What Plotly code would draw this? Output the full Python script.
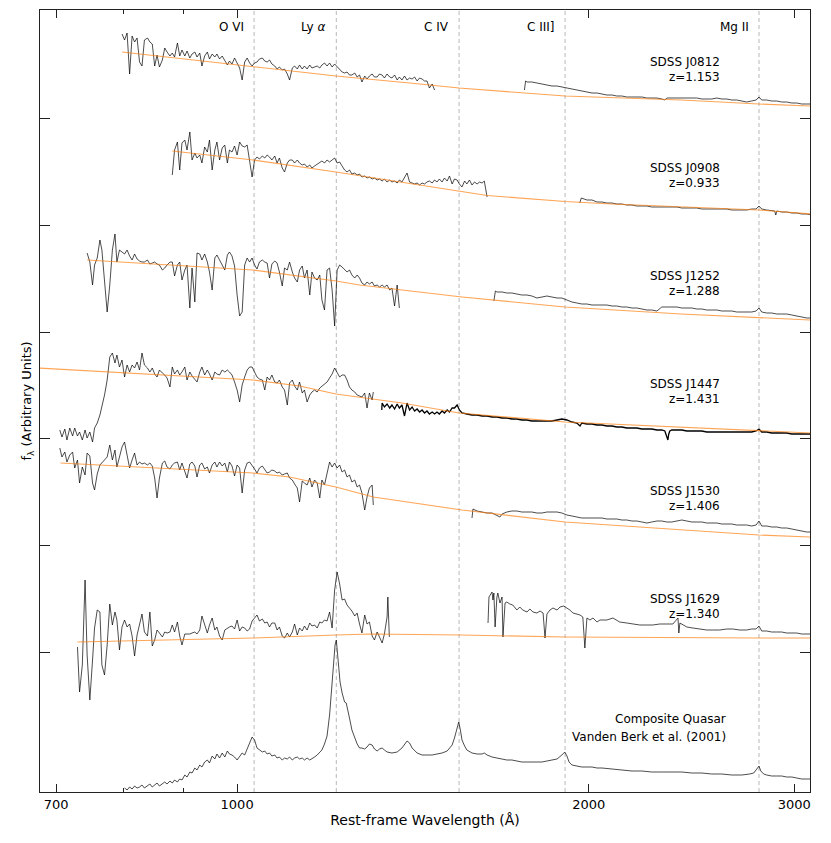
import math
import plotly.graph_objects as go

# rest-frame wavelength (Angstrom) and flux (arbitrary units, spectra offset vertically)

j0812_uv_wave = [797, 801, 805, 809, 813, 817, 821, 825, 829, 833,
                 838, 842, 846, 850, 854, 858, 863, 867, 871, 876,
                 880, 884, 889, 893, 897, 902, 906, 911, 915, 920,
                 924, 929, 933, 938, 943, 947, 952, 957, 961, 966,
                 971, 976, 981, 985, 990, 995, 1000, 1005, 1010, 1015,
                 1020, 1025, 1030, 1035, 1040, 1045, 1051, 1056, 1061, 1066,
                 1071, 1077, 1082, 1087, 1093, 1098, 1104, 1109, 1115, 1120,
                 1126, 1131, 1137, 1142, 1148, 1154, 1159, 1165, 1171, 1177,
                 1182, 1188, 1194, 1200, 1206, 1212, 1218, 1224, 1230, 1236,
                 1242, 1248, 1254, 1261, 1267, 1273, 1279, 1286, 1292, 1298,
                 1305, 1311, 1318, 1324, 1331, 1337, 1344, 1351, 1357, 1364,
                 1371, 1377, 1384, 1391, 1398, 1405, 1412, 1419, 1426, 1433,
                 1440, 1447, 1454, 1461, 1469, 1476]
j0812_uv_flux = [766, 760, 767, 726, 764, 758, 762, 738, 734, 760,
                 762, 758, 756, 734, 745, 733, 740, 752, 748, 744,
                 747, 743, 757, 744, 750, 744, 749, 742, 746, 748,
                 743, 747, 734, 744, 748, 741, 746, 743, 746, 741,
                 744, 740, 735, 739, 736, 742, 737, 732, 720, 738,
                 742, 737, 734, 737, 738, 741, 742, 739, 738, 740,
                 736, 734, 731, 733, 730, 731, 726, 720, 732, 734,
                 731, 735, 731, 734, 731, 735, 732, 733, 734, 732,
                 735, 737, 734, 737, 733, 736, 733, 730, 728, 727,
                 728, 725, 725, 727, 723, 725, 718, 724, 721, 724,
                 726, 723, 723, 726, 725, 722, 726, 723, 722, 725,
                 720, 723, 720, 724, 720, 722, 721, 723, 719, 722,
                 721, 719, 719, 712, 716, 710]
j0812_opt_wave = [1762, 1766, 1771, 1788, 1806, 1824, 1842, 1860, 1879, 1897,
                  1916, 1935, 1954, 1973, 1993, 2013, 2033, 2053, 2073, 2094,
                  2114, 2135, 2156, 2178, 2199, 2221, 2243, 2265, 2288, 2310,
                  2324, 2333, 2356, 2380, 2403, 2427, 2451, 2475, 2500, 2524,
                  2549, 2575, 2600, 2626, 2652, 2678, 2705, 2731, 2758, 2782,
                  2798, 2813, 2841, 2869, 2898, 2926, 2955, 2985, 3014, 3044,
                  3074, 3105]
j0812_opt_flux = [710, 719, 718, 718, 717, 716, 715, 714, 714, 713,
                  712, 711, 710, 709, 708, 707, 707, 706, 705, 705,
                  704, 704, 703, 703, 703, 703, 702, 702, 702, 701,
                  700, 702, 702, 702, 702, 702, 702, 702, 701, 701,
                  701, 702, 701, 701, 700, 700, 699, 698, 699, 700,
                  703, 700, 700, 699, 699, 698, 698, 697, 697, 696,
                  696, 696]

j0908_uv_wave = [880, 884, 889, 893, 897, 902, 906, 911, 915, 920,
                 924, 929, 933, 938, 943, 947, 952, 957, 961, 966,
                 971, 976, 981, 985, 990, 995, 1000, 1005, 1010, 1015,
                 1020, 1025, 1030, 1035, 1040, 1045, 1051, 1056, 1061, 1066,
                 1071, 1077, 1082, 1087, 1093, 1098, 1104, 1109, 1115, 1120,
                 1126, 1131, 1137, 1142, 1148, 1154, 1159, 1165, 1171, 1177,
                 1182, 1188, 1194, 1200, 1206, 1212, 1218, 1224, 1230, 1236,
                 1242, 1248, 1254, 1261, 1267, 1273, 1279, 1286, 1292, 1298,
                 1305, 1311, 1318, 1324, 1331, 1337, 1344, 1351, 1357, 1364,
                 1371, 1377, 1384, 1391, 1398, 1405, 1412, 1419, 1426, 1433,
                 1440, 1447, 1454, 1461, 1469, 1476, 1483, 1490, 1498, 1505,
                 1513, 1520, 1528, 1535, 1543, 1550, 1558, 1566, 1573, 1581,
                 1589, 1597, 1605, 1613, 1621, 1628, 1637]
j0908_uv_flux = [625, 650, 658, 630, 657, 660, 650, 668, 640, 647,
                 642, 645, 637, 653, 648, 660, 630, 650, 658, 640,
                 652, 655, 637, 650, 648, 654, 645, 658, 654, 653,
                 655, 638, 623, 640, 643, 641, 644, 642, 645, 643,
                 640, 644, 637, 642, 632, 628, 637, 640, 640, 637,
                 640, 637, 635, 636, 633, 635, 632, 634, 636, 638,
                 639, 637, 640, 638, 640, 642, 637, 638, 634, 630,
                 628, 630, 626, 627, 625, 626, 623, 624, 622, 623,
                 621, 622, 620, 621, 619, 621, 618, 620, 618, 619,
                 617, 620, 618, 622, 627, 618, 617, 616, 617, 615,
                 617, 616, 618, 619, 617, 620, 618, 621, 618, 622,
                 619, 624, 616, 621, 620, 616, 613, 619, 616, 620,
                 615, 618, 616, 618, 617, 619, 603]
j0908_opt_wave = [1965, 1971, 1993, 2013, 2033, 2053, 2073, 2094, 2114, 2135,
                  2156, 2178, 2199, 2221, 2243, 2265, 2288, 2310, 2333, 2356,
                  2380, 2403, 2427, 2451, 2475, 2500, 2524, 2549, 2575, 2600,
                  2626, 2652, 2678, 2705, 2731, 2758, 2782, 2798, 2813, 2841,
                  2869, 2886, 2892, 2898, 2926, 2955, 2985, 3014, 3044, 3074,
                  3105]
j0908_opt_flux = [597, 602, 600, 600, 598, 598, 597, 597, 596, 596,
                  595, 595, 594, 594, 594, 593, 593, 593, 593, 593,
                  593, 592, 592, 592, 592, 591, 591, 591, 591, 591,
                  591, 590, 590, 590, 590, 591, 591, 594, 591, 590,
                  589, 589, 585, 589, 588, 588, 587, 587, 586, 586,
                  585]

j1252_uv_wave = [744, 748, 752, 755, 759, 763, 766, 770, 774, 778,
                 782, 786, 789, 793, 797, 801, 805, 809, 813, 817,
                 821, 825, 829, 833, 838, 842, 846, 850, 854, 858,
                 863, 867, 871, 876, 880, 884, 889, 893, 897, 902,
                 906, 911, 915, 920, 924, 929, 933, 938, 943, 947,
                 952, 957, 961, 966, 971, 976, 981, 985, 990, 995,
                 1000, 1005, 1010, 1015, 1020, 1025, 1030, 1035, 1040, 1045,
                 1051, 1056, 1061, 1066, 1071, 1077, 1082, 1087, 1093, 1098,
                 1104, 1109, 1115, 1120, 1126, 1131, 1137, 1142, 1148, 1154,
                 1159, 1165, 1171, 1177, 1182, 1188, 1194, 1200, 1206, 1212,
                 1218, 1224, 1230, 1236, 1242, 1248, 1254, 1261, 1267, 1273,
                 1279, 1286, 1292, 1298, 1305, 1311, 1318, 1324, 1331, 1337,
                 1344, 1351, 1357, 1364, 1371, 1377]
j1252_uv_flux = [547, 538, 515, 535, 542, 560, 550, 520, 488, 515,
                 550, 566, 538, 550, 548, 546, 550, 544, 540, 546,
                 541, 539, 538, 538, 540, 536, 537, 538, 536, 535,
                 530, 532, 535, 538, 538, 524, 535, 538, 520, 530,
                 535, 492, 532, 498, 547, 546, 540, 546, 538, 528,
                 510, 542, 545, 540, 536, 530, 545, 548, 544, 534,
                 505, 484, 488, 535, 542, 538, 542, 535, 531, 538,
                 540, 538, 537, 522, 536, 539, 537, 528, 514, 532,
                 530, 538, 528, 522, 518, 530, 534, 522, 530, 505,
                 528, 522, 520, 525, 500, 490, 530, 532, 510, 474,
                 530, 535, 533, 530, 528, 530, 525, 522, 525, 522,
                 517, 515, 518, 516, 518, 514, 515, 513, 515, 513,
                 515, 510, 512, 494, 515, 492]
j1252_opt_wave = [1659, 1664, 1669, 1686, 1702, 1719, 1736, 1753, 1771, 1788,
                  1806, 1824, 1842, 1860, 1879, 1897, 1916, 1935, 1954, 1973,
                  1993, 2013, 2033, 2053, 2073, 2094, 2114, 2135, 2156, 2178,
                  2199, 2221, 2243, 2265, 2288, 2310, 2333, 2356, 2380, 2403,
                  2427, 2451, 2475, 2500, 2524, 2549, 2575, 2600, 2626, 2652,
                  2678, 2705, 2731, 2758, 2782, 2798, 2813, 2841, 2869, 2898,
                  2926, 2955, 2985, 3014, 3044, 3074, 3105]
j1252_opt_flux = [499, 509, 508, 508, 507, 507, 506, 505, 505, 504,
                  502, 503, 504, 503, 502, 502, 500, 498, 497, 496,
                  496, 495, 495, 495, 495, 494, 494, 493, 493, 492,
                  492, 491, 490, 490, 489, 493, 493, 493, 493, 492,
                  492, 492, 491, 491, 490, 490, 490, 489, 489, 489,
                  488, 488, 488, 488, 489, 492, 488, 487, 487, 486,
                  486, 486, 485, 484, 483, 482, 482]

uv_wave_705 = [705, 708, 712, 715, 719, 723, 726, 730, 733, 737,
               741, 744, 748, 752, 755, 759, 763, 766, 770, 774,
               778, 782, 786, 789, 793, 797, 801, 805, 809, 813,
               817, 821, 825, 829, 833, 838, 842, 846, 850, 854,
               858, 863, 867, 871, 876, 880, 884, 889, 893, 897,
               902, 906, 911, 915, 920, 924, 929, 933, 938, 943,
               947, 952, 957, 961, 966, 971, 976, 981, 985, 990,
               995, 1000, 1005, 1010, 1015, 1020, 1025, 1030, 1035, 1040,
               1045, 1051, 1056, 1061, 1066, 1071, 1077, 1082, 1087, 1093,
               1098, 1104, 1109, 1115, 1120, 1126, 1131, 1137, 1142, 1148,
               1154, 1159, 1165, 1171, 1177, 1182, 1188, 1194, 1200, 1206,
               1212, 1218, 1224, 1230, 1236, 1242, 1248, 1254, 1261, 1267,
               1273, 1279, 1286, 1292, 1298, 1305, 1308]

j1447_uv_wave = uv_wave_705
j1447_uv_flux = [370, 363, 371, 360, 372, 364, 372, 364, 368, 360,
                 370, 362, 368, 358, 372, 377, 385, 393, 405, 420,
                 443, 447, 437, 445, 433, 440, 423, 435, 428, 435,
                 432, 438, 430, 447, 435, 432, 428, 432, 426, 423,
                 430, 427, 425, 422, 413, 433, 426, 430, 425, 428,
                 433, 420, 428, 424, 420, 418, 428, 433, 425, 430,
                 426, 420, 428, 426, 425, 430, 428, 430, 428, 425,
                 418, 410, 398, 415, 423, 430, 433,
                 433, 428, 423, 421, 420, 410, 423, 420, 425, 418,
                 417, 420, 413, 410, 395, 417, 420, 414, 410, 418,
                 407, 410, 398, 405, 408, 410, 408, 412, 414, 416,
                 418, 422, 426, 432, 427, 423, 425, 425, 420, 413,
                 410, 408, 405, 404, 403, 407, 392, 407, 400, 408]
j1447_opt_wave = [1330, 1331, 1337, 1344, 1351, 1357, 1364, 1371, 1377, 1384,
                  1391, 1398, 1405, 1412, 1419, 1426, 1433, 1440, 1447, 1454,
                  1461, 1469, 1476, 1483, 1490, 1498, 1505, 1513, 1520, 1528,
                  1535, 1543, 1550, 1558,
                  1573, 1589, 1605, 1621, 1637, 1653, 1669, 1686, 1702, 1719,
                  1736, 1753, 1771, 1788, 1806, 1824, 1842, 1860, 1879, 1897,
                  1916, 1935, 1954, 1966, 1973, 1993, 2013, 2033, 2053, 2073,
                  2094, 2114, 2135, 2156, 2178, 2199, 2221, 2243, 2265, 2288,
                  2310, 2324, 2333, 2338, 2342, 2347, 2356, 2380, 2403, 2427,
                  2451, 2475, 2500, 2524, 2549, 2575, 2600, 2626, 2652, 2678,
                  2705, 2731, 2758, 2782, 2798, 2813, 2841, 2869, 2898, 2926,
                  2955, 2985, 3014, 3044, 3074, 3105]
j1447_opt_flux = [390, 397, 393, 396, 392, 395, 391, 396, 392, 395,
                  384, 397, 390, 393, 389, 391, 388, 390, 387, 389,
                  386, 388, 386, 388, 386, 389, 387, 390, 388, 392,
                  392, 395, 390, 387,
                  386, 385, 385, 384, 384, 383, 383, 382, 382, 381,
                  381, 380, 380, 379, 379, 379, 379, 379, 380, 381,
                  380, 378, 377, 374, 377, 376, 376, 375, 375, 374,
                  374, 373, 373, 372, 372, 372, 371, 371, 371, 370,
                  370, 369, 364, 360, 366, 369, 370, 370, 370, 369,
                  369, 369, 369, 368, 368, 368, 368, 368, 368, 368,
                  368, 368, 368, 369, 371, 368, 368, 367, 367, 367,
                  367, 366, 366, 366, 366, 366]

j1530_uv_wave = uv_wave_705
j1530_uv_flux = [352, 343, 348, 338, 345, 348, 332, 340, 317, 333,
                 325, 347, 344, 317, 310, 326, 335, 337, 340, 343,
                 355, 340, 350, 333, 343, 353, 358, 345, 332, 340,
                 347, 335, 338, 336, 337, 335, 337, 334, 322, 302,
                 322, 337, 339, 333, 331, 335, 337, 338, 330, 337,
                 329, 322, 336, 338, 334, 323, 335, 337, 331, 333,
                 327, 335, 338, 333, 338, 334, 337, 328, 338, 334,
                 324, 335, 332, 307, 330, 337, 338,
                 335, 331, 327, 332, 334, 330, 327, 328, 330, 329,
                 327, 328, 325, 326, 327, 322, 320, 316, 312, 298,
                 319, 317, 315, 322, 313, 320, 317, 302, 320, 315,
                 328, 338, 333, 337, 332, 335, 328, 330, 323, 325,
                 318, 320, 313, 315, 307, 290, 303, 312, 315, 295]
j1530_opt_wave = [1589, 1592, 1605, 1621, 1637, 1653, 1669, 1679, 1686, 1702,
                  1719, 1736, 1753, 1771, 1788, 1806, 1824, 1842, 1860, 1879,
                  1897, 1916, 1935, 1954, 1973, 1993, 2013, 2033, 2053, 2073,
                  2094, 2114, 2135, 2156, 2178, 2199, 2221, 2243, 2265, 2288,
                  2310, 2333, 2356, 2380, 2403, 2427, 2451, 2475, 2500, 2524,
                  2549, 2575, 2600, 2626, 2652, 2678, 2705, 2731, 2758, 2782,
                  2798, 2813, 2841, 2869, 2898, 2926, 2955, 2985, 3014, 3044,
                  3074, 3105]
j1530_opt_flux = [282, 291, 289, 288, 287, 287, 285, 283, 286, 288,
                  289, 289, 288, 288, 288, 287, 287, 288, 288, 288,
                  287, 285, 284, 283, 282, 282, 282, 282, 282, 281,
                  281, 281, 280, 280, 279, 279, 278, 277, 278, 279,
                  279, 278, 278, 279, 280, 279, 278, 278, 278, 277,
                  277, 277, 276, 276, 276, 275, 275, 275, 274, 275,
                  279, 274, 274, 273, 273, 272, 272, 271, 270, 269,
                  268, 268]

j1629_uv_wave = [730, 733, 737, 741, 744, 748, 752, 755, 759, 763,
                 766, 770, 774, 778, 782, 786, 789, 793, 797, 801,
                 805, 809, 813, 817, 821, 825, 829, 833, 838, 842,
                 846, 850, 854, 858, 863, 867, 871, 876, 880, 884,
                 889, 893, 897, 902, 906, 911, 915, 920, 924, 929,
                 933, 938, 943, 947, 952, 957, 961, 966, 971, 976,
                 981, 985, 990, 995, 1000, 1005, 1010, 1015, 1020, 1025,
                 1030, 1035, 1040, 1045, 1051, 1056, 1061, 1066, 1071, 1077,
                 1082, 1087, 1093, 1098, 1104, 1109, 1115, 1120, 1126, 1131,
                 1137, 1142, 1148, 1154, 1159, 1165, 1171, 1177, 1182, 1188,
                 1194, 1200, 1206, 1212, 1218, 1224, 1230, 1236, 1242, 1248,
                 1254, 1261, 1267, 1273, 1279, 1286, 1292, 1298, 1305, 1311,
                 1318, 1324, 1331, 1337, 1344, 1346, 1350]
j1629_uv_flux = [153, 108, 135, 220, 145, 100, 140, 172, 190, 188,
                 135, 125, 155, 196, 175, 188, 180, 150, 173, 180,
                 173, 176, 164, 144, 165, 175, 186, 168, 164, 188,
                 154, 160, 170, 167, 163, 168, 167, 168, 175, 168,
                 178, 164, 155, 166, 166, 166, 167, 168, 166, 170,
                 184, 176, 167, 175, 182, 170, 173, 164, 160, 170,
                 172, 173, 174, 171, 180, 169, 173, 172, 169, 171,
                 179, 182, 185, 179, 181, 177, 178, 173, 177, 177,
                 170, 173, 164, 162, 167, 163, 168, 176, 165, 172,
                 169, 174, 170, 177, 174, 175, 172, 178, 177, 180,
                 179, 188, 172, 210, 228, 216, 200, 201, 195, 192,
                 189, 184, 187, 176, 167, 185, 176, 178, 164, 160,
                 168, 163, 157, 166, 183, 203, 163]
j1629_opt_wave = [1640, 1643, 1653, 1656, 1659, 1663, 1669, 1672, 1679, 1686,
                  1689, 1696, 1702, 1712, 1722, 1736, 1746, 1756, 1771, 1781,
                  1792, 1806, 1817, 1828, 1835, 1842, 1853, 1864, 1879, 1890,
                  1904, 1916, 1927, 1939, 1954, 1966, 1977, 1985, 1993, 2005,
                  2017, 2033, 2045, 2073, 2098, 2126, 2156, 2178, 2212, 2243,
                  2269, 2301, 2333, 2361, 2385, 2389, 2394, 2427, 2456, 2490,
                  2524, 2554, 2590, 2626, 2657, 2694, 2731, 2758, 2782, 2798,
                  2813, 2841, 2869, 2898, 2926, 2955, 2985, 3014, 3044, 3074,
                  3105]
j1629_opt_flux = [177, 203, 208, 200, 207, 173, 203, 207, 197, 203,
                  163, 197, 198, 196, 195, 190, 193, 190, 188, 191,
                  188, 187, 189, 187, 162, 186, 190, 192, 190, 193,
                  194, 192, 190, 187, 186, 185, 183, 152, 182, 180,
                  182, 178, 180, 180, 182, 178, 177, 176, 175, 175,
                  175, 176, 176, 176, 182, 167, 177, 173, 172, 171,
                  170, 170, 170, 171, 171, 170, 170, 171, 171, 174,
                  169, 169, 168, 168, 168, 167, 167, 167, 166, 166,
                  166]

composite_wave = [801, 805, 809, 813, 817, 821, 825, 829, 833, 838,
                  842, 846, 850, 854, 858, 863, 867, 871, 876, 880,
                  884, 889, 893, 897, 902, 906, 911, 915, 920, 924,
                  929, 933, 938, 943, 947, 952, 957, 961, 966, 971,
                  976, 981, 985, 990, 995, 1000, 1005, 1010, 1015, 1020,
                  1025, 1030, 1035, 1040, 1045, 1051, 1056, 1061, 1066, 1071,
                  1077, 1082, 1087, 1093, 1098, 1104, 1109, 1115, 1120, 1126,
                  1131, 1137, 1142, 1148, 1154, 1159, 1165, 1171, 1177, 1182,
                  1188, 1194, 1200, 1206,
                  1210, 1213, 1216, 1218, 1222, 1225, 1230, 1236, 1240, 1243,
                  1248, 1254, 1261, 1267, 1273, 1279, 1286, 1292, 1298, 1305,
                  1311, 1318, 1324, 1331, 1337, 1344, 1357, 1371, 1384, 1391,
                  1398, 1405, 1412, 1426, 1440, 1454, 1469, 1483, 1498, 1513,
                  1528, 1535, 1543, 1548, 1553, 1558, 1566, 1573, 1589, 1605,
                  1621, 1628, 1637, 1653, 1669, 1686, 1702, 1719, 1736, 1753,
                  1771, 1788, 1806, 1824, 1842, 1860, 1879, 1897, 1908, 1916,
                  1924, 1935, 1954, 1973, 1993, 2013, 2033, 2053, 2094, 2135,
                  2178, 2221, 2265, 2310, 2356, 2403, 2451, 2500, 2549, 2600,
                  2652, 2705, 2747, 2769, 2786, 2798, 2808, 2824, 2841, 2869,
                  2898, 2926, 2955, 2985, 3014, 3044, 3074, 3105]
composite_flux = [12, 10, 13, 11, 14, 12, 13, 15, 12, 14,
                  16, 13, 15, 17, 14, 16, 18, 16, 19, 17,
                  20, 18, 21, 20, 25, 23, 28, 27, 32, 30,
                  35, 33, 38, 40, 37, 44, 41, 46, 42, 47,
                  43, 49, 46, 45, 43, 40, 44, 47, 45, 52,
                  57, 63, 60, 52, 50, 48, 49, 46, 47, 44,
                  45, 42, 43, 40, 42, 41, 43, 40, 42, 43,
                  41, 42, 40, 42, 40, 41, 43, 45, 48, 50,
                  56, 64, 85, 115,
                  135, 155, 160, 150, 132, 118, 107, 98, 97, 92,
                  82, 70, 62, 56, 52, 52, 51, 53, 56, 55,
                  51, 49, 51, 52, 50, 48, 47, 48, 52, 56,
                  59, 57, 52, 47, 45, 45, 45, 46, 47, 49,
                  55, 62, 74, 78, 70, 60, 54, 50, 47, 46,
                  46, 47, 45, 43, 42, 41, 40, 40, 39, 38,
                  38, 38, 38, 38, 39, 40, 41, 45, 48, 44,
                  38, 35, 34, 33, 33, 33, 32, 32, 31, 30,
                  29, 29, 28, 28, 28, 28, 27, 27, 26, 26,
                  25, 25, 26, 27, 31, 34, 29, 26, 25, 24,
                  24, 24, 23, 23, 22, 21, 21, 21]

# power-law continuum fits
j0812_cont_wave = [797, 1032, 1215, 1405, 1549, 1909, 2400, 2798, 3100]
j0812_cont_flux = [748, 733, 724, 717, 712, 704, 700, 696, 694]
j0908_cont_wave = [880, 1032, 1215, 1326, 1549, 1637, 1909, 2094, 2798, 3100]
j0908_cont_flux = [649, 640, 628, 621, 609, 604.5, 598.5, 596, 590, 586]
j1252_cont_wave = [744, 1032, 1215, 1273, 1558, 1909, 2400, 2798, 3100]
j1252_cont_flux = [540, 530, 519, 515, 503, 493, 486, 482, 480]
j1447_cont_wave = [675, 1032, 1131, 1215, 1384, 1549, 1909, 2400, 2798, 3100]
j1447_cont_flux = [432, 420, 414, 406, 397, 387, 378, 373, 369, 367]
j1530_cont_wave = [706, 1032, 1109, 1215, 1308, 1558, 1909, 2400, 2798, 3100]
j1530_cont_flux = [337, 327, 323, 313, 303, 290, 278, 270, 265, 263]
j1629_cont_wave = [730, 1032, 1215, 1300, 1558, 1909, 2798, 3100]
j1629_cont_flux = [158, 162, 165, 166, 165, 163, 162, 162]

line_names = ["O VI", "Ly <i>α</i>", "C IV", "C III]", "Mg II"]
line_waves = [1034, 1216, 1549, 1909, 2798]

qso_names = ["SDSS J0812", "SDSS J0908", "SDSS J1252", "SDSS J1447", "SDSS J1530", "SDSS J1629"]
qso_z = ["z=1.153", "z=0.933", "z=1.288", "z=1.431", "z=1.406", "z=1.340"]
qso_label_flux = [738, 632, 524, 416, 309, 201]

y_ticks = [148, 255, 362, 468, 575, 682]

spectra = [
    (j0812_uv_wave, j0812_uv_flux), (j0812_opt_wave, j0812_opt_flux),
    (j0908_uv_wave, j0908_uv_flux), (j0908_opt_wave, j0908_opt_flux),
    (j1252_uv_wave, j1252_uv_flux), (j1252_opt_wave, j1252_opt_flux),
    (j1447_uv_wave, j1447_uv_flux),
    (j1530_uv_wave, j1530_uv_flux), (j1530_opt_wave, j1530_opt_flux),
    (j1629_uv_wave, j1629_uv_flux), (j1629_opt_wave, j1629_opt_flux),
    (composite_wave, composite_flux),
]
continua = [
    (j0812_cont_wave, j0812_cont_flux), (j0908_cont_wave, j0908_cont_flux),
    (j1252_cont_wave, j1252_cont_flux), (j1447_cont_wave, j1447_cont_flux),
    (j1530_cont_wave, j1530_cont_flux), (j1629_cont_wave, j1629_cont_flux),
]

y_lo, y_hi = 8, 790

fig = go.Figure()

# emission line markers
for w in line_waves:
    fig.add_trace(go.Scatter(x=[w, w], y=[y_lo, y_hi], mode='lines',
                             line=dict(color='#b8b8b8', width=1, dash='4px,3px'),
                             hoverinfo='skip', showlegend=False))

for w, f in spectra:
    fig.add_trace(go.Scatter(x=w, y=f, mode='lines',
                             line=dict(color='black', width=0.7),
                             hoverinfo='skip', showlegend=False))

# the high S/N spectrum of J1447 looks heavier in the original
fig.add_trace(go.Scatter(x=j1447_opt_wave, y=j1447_opt_flux, mode='lines',
                         line=dict(color='black', width=1.3),
                         hoverinfo='skip', showlegend=False))

for w, f in continua:
    fig.add_trace(go.Scatter(x=w, y=f, mode='lines',
                             line=dict(color='rgba(255,127,14,0.7)', width=1.1),
                             hoverinfo='skip', showlegend=False))

annots = []
for name, w in zip(line_names, line_waves):
    annots.append(dict(x=math.log10(w), y=773, text=name, showarrow=False,
                       xanchor='right', yanchor='middle', xshift=-8,
                       font=dict(size=12)))
for name, z, f in zip(qso_names, qso_z, qso_label_flux):
    annots.append(dict(x=math.log10(2600), y=f, text=name, showarrow=False,
                       xanchor='right', yanchor='middle', font=dict(size=12)))
    annots.append(dict(x=math.log10(2600), y=f - 15, text=z, showarrow=False,
                       xanchor='right', yanchor='middle', font=dict(size=12)))
annots.append(dict(x=math.log10(2630), y=81, text="Composite Quasar", showarrow=False,
                   xanchor='right', yanchor='middle', font=dict(size=12)))
annots.append(dict(x=math.log10(2630), y=63, text="Vanden Berk et al. (2001)", showarrow=False,
                   xanchor='right', yanchor='middle', font=dict(size=12)))

fig.update_layout(
    width=831, height=843,
    margin=dict(l=32, r=29, t=2, b=59),
    plot_bgcolor='white', paper_bgcolor='white',
    font=dict(family='DejaVu Sans', size=13, color='black'),
    showlegend=False,
    annotations=annots,
)

fig.update_xaxes(
    type='log', range=[math.log10(678), math.log10(3094)],
    tickmode='array', tickvals=[700, 1000, 2000, 3000],
    ticktext=['700', '1000', '2000', '3000'],
    ticks='inside', ticklen=8, tickcolor='#222', tickwidth=1,
    minor=dict(tickmode='array', tickvals=[800, 900], ticks='inside',
               ticklen=4, tickcolor='#222', showgrid=False),
    showline=True, linecolor='#222', linewidth=1, mirror='ticks',
    showgrid=False, zeroline=False,
    tickfont=dict(size=13),
    title=dict(text='Rest-frame Wavelength (Å)', font=dict(size=14), standoff=4),
)
fig.update_yaxes(
    range=[y_lo, y_hi], tickmode='array', tickvals=y_ticks,
    showticklabels=False,
    ticks='inside', ticklen=10, tickcolor='#222', tickwidth=1,
    showline=True, linecolor='#222', linewidth=1, mirror='ticks',
    showgrid=False, zeroline=False,
    title=dict(text='f<sub>λ</sub> (Arbitrary Units)', font=dict(size=13), standoff=4),
)

fig.write_html("out.html")
